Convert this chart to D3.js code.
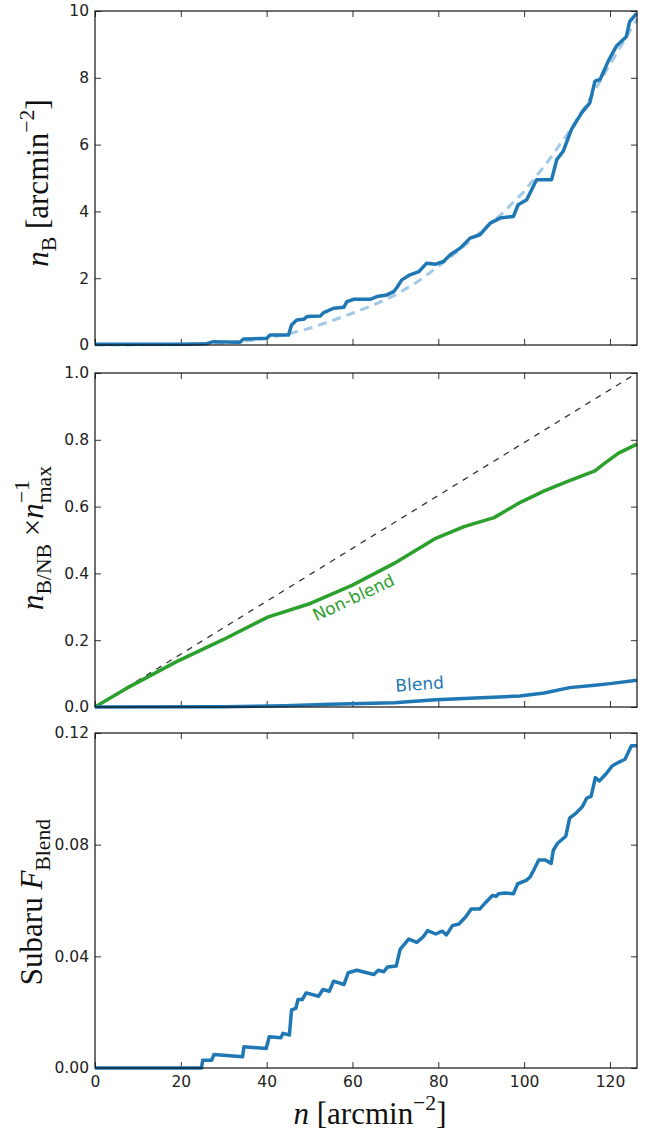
<!DOCTYPE html>
<html>
<head>
<meta charset="utf-8">
<script src="https://cdn.jsdelivr.net/npm/d3@7"></script>
<style>
  body { margin: 0; background: #fff; }
  .tick text { font-family: "DejaVu Sans", sans-serif; font-size: 15.5px; fill: #222; }
  .lab { font-family: "Liberation Serif", serif; fill: #111; }
</style>
</head>
<body>
<div id="chart"></div>
<script>
// --- data ---
// top: number density of blends
const blendN   = [0, 20, 26, 27.6, 33.8, 34.6, 40, 40.8, 45.1, 45.8, 47, 48.6, 49.4, 52.5, 53.3, 55.6, 58, 58.7, 60.3, 64.2, 65.7, 68, 69.6, 70.4, 71.5, 73.4, 75.5, 77.3, 79.4, 81.2, 82.8, 85.1, 87.4, 89.7, 92.1, 94.4, 97.5, 98.6, 100.6, 102.9, 106.4, 107.6, 109.1, 111, 113.4, 115.3, 116.5, 117.7, 119.6, 121.5, 123.8, 124.6, 126.2];
const blendDen = [0.02, 0.02, 0.04, 0.1, 0.08, 0.18, 0.2, 0.3, 0.3, 0.6, 0.75, 0.77, 0.85, 0.87, 0.97, 1.1, 1.13, 1.3, 1.37, 1.37, 1.45, 1.5, 1.6, 1.73, 1.95, 2.1, 2.2, 2.45, 2.42, 2.5, 2.7, 2.9, 3.2, 3.3, 3.65, 3.8, 3.85, 4.2, 4.35, 4.95, 4.95, 5.55, 5.8, 6.45, 6.95, 7.25, 7.9, 7.95, 8.5, 8.95, 9.23, 9.68, 9.93];
// dashed fit
const fitN   = [0, 20, 30, 35, 40, 45, 50, 55, 60, 65, 70, 75, 80, 85, 90, 95, 100, 105, 110, 115, 120, 126.3];
const fitDen = [0, 0.01, 0.06, 0.12, 0.2, 0.33, 0.5, 0.72, 0.95, 1.2, 1.5, 1.88, 2.35, 2.85, 3.4, 3.95, 4.6, 5.4, 6.3, 7.3, 8.4, 9.75];

// middle: normalised densities
const nonBlendN    = [0, 7.2, 18.9, 29.6, 40.4, 50.2, 60, 69.7, 79.4, 86, 93, 99, 104.7, 110, 116.5, 118.5, 122, 126.3];
const nonBlendFrac = [0, 0.055, 0.135, 0.2, 0.27, 0.31, 0.365, 0.43, 0.505, 0.54, 0.567, 0.612, 0.647, 0.675, 0.707, 0.727, 0.76, 0.787];
const blendFracN   = [0, 30, 44.2, 55, 69.7, 79.4, 90, 99, 104.7, 110.6, 116.5, 120, 126.3];
const blendFrac    = [0, 0.001, 0.004, 0.008, 0.013, 0.022, 0.028, 0.033, 0.042, 0.058, 0.065, 0.07, 0.08];
const diagN    = [0, 126.3];
const diagFrac = [0, 1];

// bottom: Subaru blend fraction
const fbN = [0, 24.8, 25.1, 27.2, 27.7, 34.4, 34.7, 39.9, 40.6, 43.3, 43.8, 45.3, 45.8, 46.8, 47.3, 48.3, 49.2, 52.1, 53.1, 54.6, 55.6, 58, 59, 61, 65, 66, 67.3, 68.2, 70.2, 71.1, 73.1, 75, 76.5, 77.5, 79.4, 80.9, 81.9, 83.3, 84.8, 86.3, 87.7, 89.7, 91.1, 92.6, 93.5, 94, 95.6, 97.5, 98.5, 100.5, 101.4, 102.4, 103.4, 104.9, 106.3, 106.8, 107.8, 109.7, 110.6, 112.1, 113.6, 114.6, 115.6, 116.6, 117.5, 119, 120.5, 121.9, 123.5, 125, 126.3];
const fbVal = [0, 0, 0.0028, 0.0028, 0.0048, 0.004, 0.0076, 0.007, 0.0112, 0.0108, 0.0124, 0.0118, 0.0208, 0.0214, 0.0245, 0.0245, 0.0269, 0.0257, 0.0281, 0.0275, 0.0311, 0.0299, 0.0341, 0.035, 0.0335, 0.035, 0.0345, 0.0362, 0.0365, 0.0425, 0.0462, 0.045, 0.047, 0.0492, 0.048, 0.049, 0.0477, 0.051, 0.0516, 0.054, 0.057, 0.057, 0.0594, 0.0618, 0.0615, 0.0624, 0.0627, 0.0624, 0.066, 0.0672, 0.0684, 0.0714, 0.0745, 0.0745, 0.0733, 0.078, 0.0805, 0.083, 0.0895, 0.0913, 0.0937, 0.0967, 0.0973, 0.104, 0.1028, 0.1052, 0.1082, 0.1094, 0.1106, 0.1154, 0.1154];

const xTicks = [0, 20, 40, 60, 80, 100, 120];
const topTicks = [0, 2, 4, 6, 8, 10];
const midTicks = [0, 0.2, 0.4, 0.6, 0.8, 1.0];
const botTicks = [0, 0.04, 0.08, 0.12];

const zip = (xs, ys) => xs.map((x, i) => [x, ys[i]]);

const W = 657, H = 1131;
const left = 95, right = 637;
const blue = "#1f77b4", green = "#2ca02c";

const svg = d3.select("#chart").append("svg")
  .attr("width", W).attr("height", H);

const x = d3.scaleLinear().domain([0, 126.3]).range([left, right]);

// one panel: inward ticks on all four sides
function panel(top, bottom, domain, ticks, fmt, showX) {
  const y = d3.scaleLinear().domain(domain).range([bottom, top]);
  const g = svg.append("g");

  g.append("g").attr("transform", `translate(${left},0)`)
    .call(d3.axisLeft(y).tickValues(ticks).tickFormat(fmt).tickSizeInner(-6).tickSizeOuter(0).tickPadding(6));
  g.append("g").attr("transform", `translate(${right},0)`)
    .call(d3.axisRight(y).tickValues(ticks).tickFormat("").tickSizeInner(-6).tickSizeOuter(0));
  g.append("g").attr("transform", `translate(0,${top})`)
    .call(d3.axisTop(x).tickValues(xTicks).tickFormat("").tickSizeInner(-6).tickSizeOuter(0));
  g.append("g").attr("transform", `translate(0,${bottom})`)
    .call(d3.axisBottom(x).tickValues(xTicks).tickFormat(showX ? d3.format("d") : "").tickSizeInner(-6).tickSizeOuter(0).tickPadding(8));

  g.selectAll(".domain").remove();
  g.selectAll(".tick line").attr("stroke", "#333");

  return { y, g };
}

function frame(top, bottom) {
  svg.append("rect")
    .attr("x", left).attr("y", top)
    .attr("width", right - left).attr("height", bottom - top)
    .attr("fill", "none").attr("stroke", "#111").attr("stroke-width", 1.2);
}

function drawLine(y, pts, color, width, dash) {
  const line = d3.line().x(d => x(d[0])).y(d => y(d[1]));
  svg.append("path")
    .datum(pts)
    .attr("d", line)
    .attr("fill", "none")
    .attr("stroke", color)
    .attr("stroke-width", width)
    .attr("stroke-linejoin", "round")
    .attr("stroke-dasharray", dash || null);
}

// top panel
const p1 = panel(11, 345, [0, 10], topTicks, d3.format("d"), false);
drawLine(p1.y, zip(fitN, fitDen), "#a3c9e6", 3, "9,6");
drawLine(p1.y, zip(blendN, blendDen), blue, 3.5);
frame(11, 345);

// middle panel
const p2 = panel(373, 707, [0, 1], midTicks, d3.format(".1f"), false);
drawLine(p2.y, zip(diagN, diagFrac), "#333", 1.3, "6,6");
drawLine(p2.y, zip(nonBlendN, nonBlendFrac), green, 3.5);
drawLine(p2.y, zip(blendFracN, blendFrac), blue, 3.5);
frame(373, 707);

svg.append("text")
  .attr("transform", "translate(356,603) rotate(-25)")
  .attr("text-anchor", "middle")
  .style("font-family", "'DejaVu Sans', sans-serif")
  .style("font-size", "17px")
  .style("fill", green)
  .text("Non-blend");
svg.append("text")
  .attr("transform", "translate(420,690) rotate(-4)")
  .attr("text-anchor", "middle")
  .style("font-family", "'DejaVu Sans', sans-serif")
  .style("font-size", "17px")
  .style("fill", blue)
  .text("Blend");

// bottom panel
const p3 = panel(733, 1068, [0, 0.12], botTicks, d3.format(".2f"), true);
drawLine(p3.y, zip(fbN, fbVal), blue, 3.5);
frame(733, 1068);

// axis labels (math-ish, serif)
const FS = 31;
function label(cx, cy, rot, parts) {
  const t = svg.append("text")
    .attr("class", "lab")
    .attr("transform", `translate(${cx},${cy}) rotate(${rot})`)
    .attr("text-anchor", "middle")
    .style("font-size", FS + "px");
  let prev = null;
  parts.forEach(p => {
    const s = t.append("tspan").text(p.t);
    let dy = 0;
    if (p.it) s.style("font-style", "italic");
    if (p.sub || p.sup) s.style("font-size", (FS * 0.7) + "px");
    if (p.sub) dy = FS * 0.25;
    if (p.sup) dy = -FS * 0.45;
    if (p.dy !== undefined) dy += p.dy;
    s.attr("dy", dy);
    // stack this script on top of the previous one
    if (p.stack && prev) s.attr("dx", -prev.node().getComputedTextLength());
    prev = s;
  });
  return t;
}

label(48, 183, -90, [
  { t: "n", it: true }, { t: "B", sub: true }, { t: " [arcmin", dy: -FS * 0.25 },
  { t: "\u22122", sup: true }, { t: "]", dy: FS * 0.45 }
]);

label(43, 538, -90, [
  { t: "n", it: true }, { t: "B/NB", sub: true }, { t: " \u00d7", dy: -FS * 0.25 }, { t: "n", it: true },
  { t: "max", sub: true }, { t: "\u22121", sup: true, dy: -FS * 0.25, stack: true }
]);

label(42, 902, -90, [
  { t: "Subaru " }, { t: "F", it: true }, { t: "Blend", sub: true }
]);

label(370, 1124, 0, [
  { t: "n", it: true }, { t: " [arcmin" }, { t: "\u22122", sup: true }, { t: "]", dy: FS * 0.45 }
]);
</script>
</body>
</html>
